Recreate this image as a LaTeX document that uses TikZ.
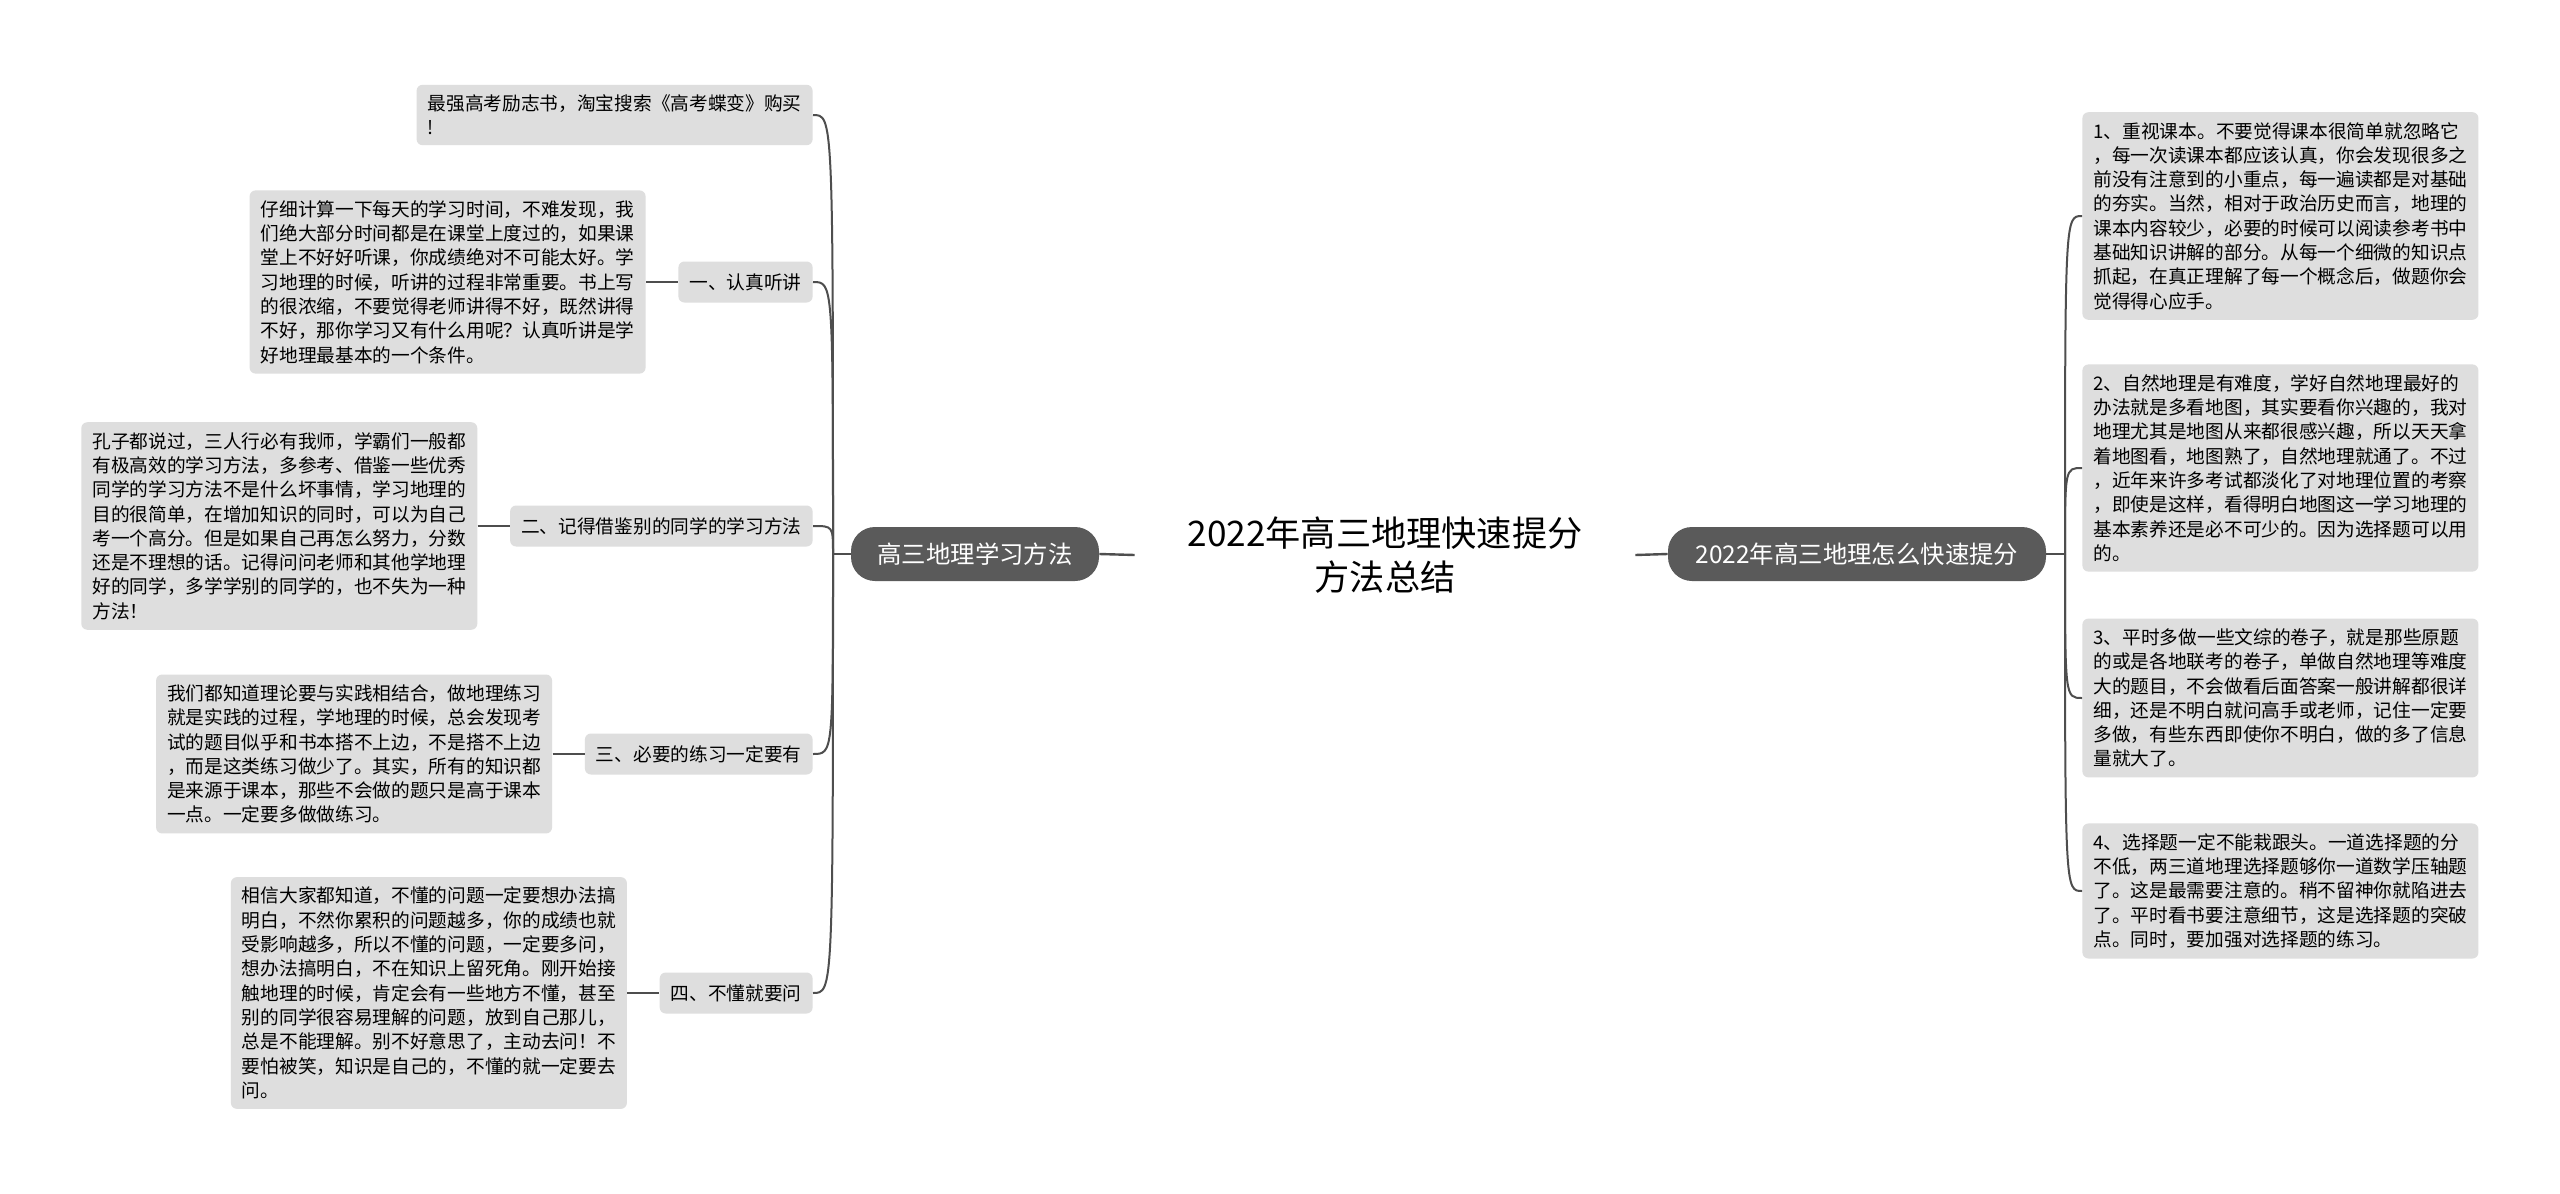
\documentclass[tikz,border=0pt]{standalone}
\usepackage{fontspec}
\setmainfont{Noto Sans CJK SC}
\usetikzlibrary{positioning}
\definecolor{hubgray}{HTML}{5A5A5A}
\definecolor{boxgray}{HTML}{DEDEDE}
\definecolor{wiregray}{HTML}{4E4E4E}

\begin{document}
\begin{tikzpicture}[
  x=0.5pt, y=-0.5pt,
  font=\fontsize{9.35}{12.15}\selectfont,
  node distance=16pt,
  root/.style ={align=center, minimum width=250pt, inner sep=0pt,
                font=\fontsize{17.6}{22}\selectfont, text=black},
  hub/.style  ={rectangle, rounded corners=12pt, fill=hubgray, text=white,
                minimum height=27pt, font=\fontsize{12.2}{14}\selectfont},
  topic/.style={rectangle, rounded corners=3pt, fill=boxgray, text=black,
                inner xsep=5.5pt, minimum height=20.5pt},
  leaf/.style ={rectangle, rounded corners=3pt, fill=boxgray, text=black,
                inner xsep=5.5pt, inner ysep=5pt, text width=187pt, align=left},
  wire/.style ={draw=wiregray, line width=1.2pt},
  branch/.style={draw=wiregray, line width=1pt}
]

\fill[white] (0,0) rectangle (2560,1194);

% ---------- centre ----------
\node[root] (root) at (1385,555) {2022年高三地理快速提分\\方法总结};
\node[hub, minimum width=124pt] (lhub) at (975,554) {高三地理学习方法};
\node[hub, minimum width=189pt] (rhub) at (1857,554) {2022年高三地理怎么快速提分};
\coordinate (lsp) at (833,554);
\coordinate (rsp) at (2065,554);

% ---------- left side ----------
\node[leaf, anchor=east] (ad) at (813,115)
  {最强高考励志书，淘宝搜索《高考蝶变》购买\\!};

\node[topic, anchor=east] (t1) at (813,282) {一、认真听讲};
\node[leaf, left=of t1] (n1)
  {仔细计算一下每天的学习时间，不难发现，我\\们绝大部分时间都是在课堂上度过的，如果课\\堂上不好好听课，你成绩绝对不可能太好。学\\习地理的时候，听讲的过程非常重要。书上写\\的很浓缩，不要觉得老师讲得不好，既然讲得\\不好，那你学习又有什么用呢？认真听讲是学\\好地理最基本的一个条件。};

\node[topic, anchor=east] (t2) at (813,526) {二、记得借鉴别的同学的学习方法};
\node[leaf, left=of t2] (n2)
  {孔子都说过，三人行必有我师，学霸们一般都\\有极高效的学习方法，多参考、借鉴一些优秀\\同学的学习方法不是什么坏事情，学习地理的\\目的很简单，在增加知识的同时，可以为自己\\考一个高分。但是如果自己再怎么努力，分数\\还是不理想的话。记得问问老师和其他学地理\\好的同学，多学学别的同学的，也不失为一种\\方法！};

\node[topic, anchor=east] (t3) at (813,754) {三、必要的练习一定要有};
\node[leaf, left=of t3] (n3)
  {我们都知道理论要与实践相结合，做地理练习\\就是实践的过程，学地理的时候，总会发现考\\试的题目似乎和书本搭不上边，不是搭不上边\\，而是这类练习做少了。其实，所有的知识都\\是来源于课本，那些不会做的题只是高于课本\\一点。一定要多做做练习。};

\node[topic, anchor=east] (t4) at (813,993) {四、不懂就要问};
\node[leaf, left=of t4] (n4)
  {相信大家都知道，不懂的问题一定要想办法搞\\明白，不然你累积的问题越多，你的成绩也就\\受影响越多，所以不懂的问题，一定要多问，\\想办法搞明白，不在知识上留死角。刚开始接\\触地理的时候，肯定会有一些地方不懂，甚至\\别的同学很容易理解的问题，放到自己那儿，\\总是不能理解。别不好意思了，主动去问！不\\要怕被笑，知识是自己的，不懂的就一定要去\\问。};

% ---------- right side ----------
\node[leaf, anchor=west] (r1) at (2082,216)
  {1、重视课本。不要觉得课本很简单就忽略它\\，每一次读课本都应该认真，你会发现很多之\\前没有注意到的小重点，每一遍读都是对基础\\的夯实。当然，相对于政治历史而言，地理的\\课本内容较少，必要的时候可以阅读参考书中\\基础知识讲解的部分。从每一个细微的知识点\\抓起，在真正理解了每一个概念后，做题你会\\觉得得心应手。};
\node[leaf, anchor=west] (r2) at (2082,468)
  {2、自然地理是有难度，学好自然地理最好的\\办法就是多看地图，其实要看你兴趣的，我对\\地理尤其是地图从来都很感兴趣，所以天天拿\\着地图看，地图熟了，自然地理就通了。不过\\，近年来许多考试都淡化了对地理位置的考察\\，即使是这样，看得明白地图这一学习地理的\\基本素养还是必不可少的。因为选择题可以用\\的。};
\node[leaf, anchor=west] (r3) at (2082,698)
  {3、平时多做一些文综的卷子，就是那些原题\\的或是各地联考的卷子，单做自然地理等难度\\大的题目，不会做看后面答案一般讲解都很详\\细，还是不明白就问高手或老师，记住一定要\\多做，有些东西即使你不明白，做的多了信息\\量就大了。};
\node[leaf, anchor=west] (r4) at (2082,891)
  {4、选择题一定不能栽跟头。一道选择题的分\\不低，两三道地理选择题够你一道数学压轴题\\了。这是最需要注意的。稍不留神你就陷进去\\了。平时看书要注意细节，这是选择题的突破\\点。同时，要加强对选择题的练习。};

% ---------- connectors ----------
\draw[wire] (lhub.east) -- (root.west);
\draw[wire] (rhub.west) -- (root.east);
\draw[wire] (lhub.west) -- (lsp);
\draw[wire] (rhub.east) -- (rsp);

\foreach \t in {ad,t1,t2,t3,t4}
  \draw[branch] (lsp) .. controls (lsp |- \t.east) .. (\t.east);
\foreach \r in {r1,r2,r3,r4}
  \draw[branch] (rsp) .. controls (rsp |- \r.west) .. (\r.west);

\foreach \i in {1,...,4}
  \draw[wire] (n\i.east) -- (t\i.west);

\end{tikzpicture}
\end{document}
